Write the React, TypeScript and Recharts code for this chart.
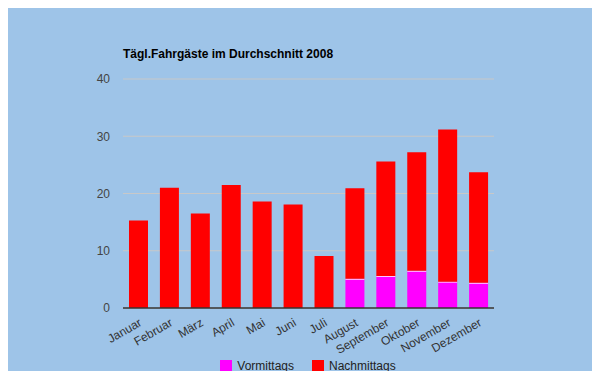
import { BarChart, Bar, XAxis, YAxis, CartesianGrid, Legend, Rectangle } from 'recharts'

const months = ['Januar', 'Februar', 'März', 'April', 'Mai', 'Juni', 'Juli', 'August', 'September', 'Oktober', 'November', 'Dezember']
const vormittags = [0, 0, 0, 0, 0, 0, 0, 5.1, 5.6, 6.5, 4.6, 4.4]
const nachmittags = [15.3, 21.0, 16.5, 21.5, 18.6, 18.1, 9.1, 15.8, 20.0, 20.7, 26.6, 19.3]
const yTicks = [0, 10, 20, 30, 40]

const data = months.map((m, i) => ({ month: m, Vormittags: vormittags[i], Nachmittags: nachmittags[i] }))

const font = 'Arial, "Liberation Sans", sans-serif'

const MonthTick = (props: any) => {
  const { x, y, payload } = props
  return (
    <text
      x={x + 4}
      y={y + 9}
      textAnchor="end"
      fill="#333"
      fontSize={12}
      fontFamily={font}
      transform={`rotate(-30 ${x + 4} ${y + 9})`}
    >
      {payload.value}
    </text>
  )
}

// morning part gets a thin pale line on top, like the original
const MorningShape = (props: any) => {
  const { x, y, width, height, fill } = props
  if (!height) return null
  return (
    <g>
      <Rectangle x={x} y={y} width={width} height={height} fill={fill} />
      <line x1={x} x2={x + width} y1={y + 0.5} y2={y + 0.5} stroke="#ffd0ff" strokeWidth={1} />
    </g>
  )
}

const LegendContent = () => (
  <div style={{ display: 'flex', justifyContent: 'center', fontFamily: font, fontSize: 12, color: '#222' }}>
    {[
      { label: 'Vormittags', color: '#ff00ff' },
      { label: 'Nachmittags', color: '#ff0000' },
    ].map(item => (
      <div key={item.label} style={{ display: 'flex', alignItems: 'center', margin: '0 9px' }}>
        <span style={{ width: 12, height: 12, background: item.color, display: 'inline-block', marginRight: 5 }} />
        <span>{item.label}</span>
      </div>
    ))}
  </div>
)

export default function App() {
  return (
    <div style={{ width: 600, height: 371, background: '#9ec4e8', position: 'relative' }}>
      <div
        style={{
          position: 'absolute',
          left: 115,
          top: 39,
          fontFamily: font,
          fontWeight: 'bold',
          fontSize: 12,
          color: '#000',
          whiteSpace: 'nowrap',
        }}
      >
        Tägl.Fahrgäste im Durchschnitt 2008
      </div>
      <BarChart
        width={600}
        height={371}
        data={data}
        margin={{ top: 71, right: 114, left: 0, bottom: 0 }}
        barSize={19}
      >
        <CartesianGrid vertical={false} stroke="#c8c8c8" strokeWidth={1} />
        <XAxis
          dataKey="month"
          interval={0}
          height={51}
          tick={<MonthTick />}
          tickLine={false}
          axisLine={{ stroke: '#333', strokeWidth: 1.5 }}
        />
        <YAxis
          width={115}
          domain={[0, 40]}
          ticks={yTicks}
          axisLine={false}
          tickLine={false}
          tick={{ fill: '#444', fontSize: 12, fontFamily: font }}
          tickMargin={7}
        />
        <Legend
          verticalAlign="bottom"
          height={20}
          content={<LegendContent />}
          wrapperStyle={{ top: 351, left: 0, width: 600 }}
        />
        <Bar dataKey="Vormittags" stackId="a" fill="#ff00ff" shape={<MorningShape />} isAnimationActive={false} />
        <Bar dataKey="Nachmittags" stackId="a" fill="#ff0000" isAnimationActive={false} />
      </BarChart>
    </div>
  )
}
